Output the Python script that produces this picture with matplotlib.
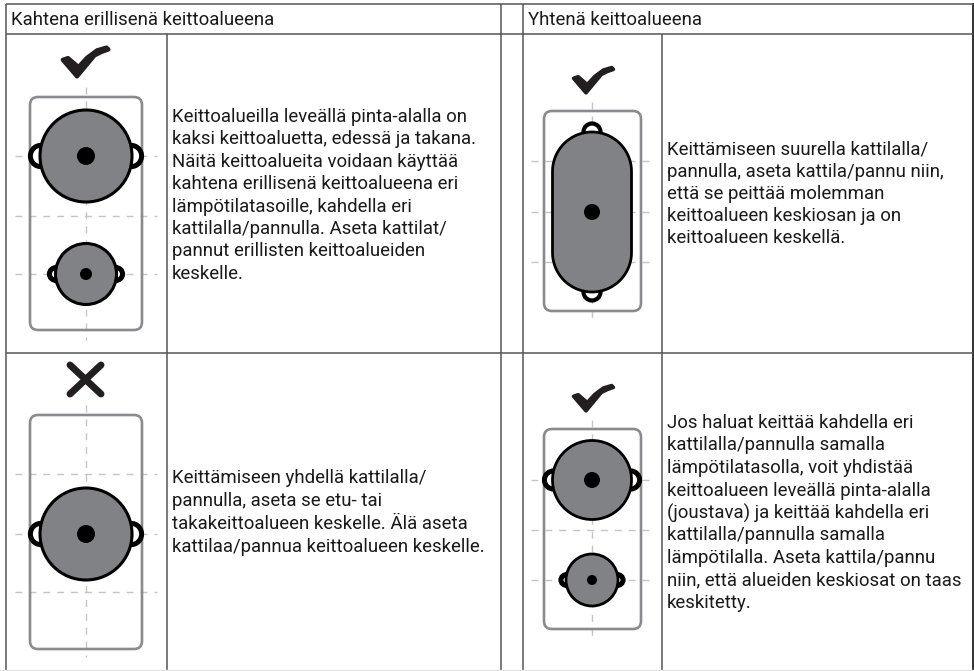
import numpy as np
import matplotlib
matplotlib.use('Agg')
import matplotlib.pyplot as plt
from matplotlib.patches import Circle, Ellipse, FancyBboxPatch, Polygon

header_left = "Kahtena erillisenä keittoalueena"
header_right = "Yhtenä keittoalueena"

text_top_left = ["Keittoalueilla leveällä pinta-alalla on",
                 "kaksi keittoaluetta, edessä ja takana.",
                 "Näitä keittoalueita voidaan käyttää",
                 "kahtena erillisenä keittoalueena eri",
                 "lämpötilatasoille, kahdella eri",
                 "kattilalla/pannulla. Aseta kattilat/",
                 "pannut erillisten keittoalueiden",
                 "keskelle."]
text_bottom_left = ["Keittämiseen yhdellä kattilalla/",
                    "pannulla, aseta se etu- tai",
                    "takakeittoalueen keskelle. Älä aseta",
                    "kattilaa/pannua keittoalueen keskelle."]
text_top_right = ["Keittämiseen suurella kattilalla/",
                  "pannulla, aseta kattila/pannu niin,",
                  "että se peittää molemman",
                  "keittoalueen keskiosan ja on",
                  "keittoalueen keskellä."]
text_bottom_right = ["Jos haluat keittää kahdella eri",
                     "kattilalla/pannulla samalla",
                     "lämpötilatasolla, voit yhdistää",
                     "keittoalueen leveällä pinta-alalla",
                     "(joustava) ja keittää kahdella eri",
                     "kattilalla/pannulla samalla",
                     "lämpötilalla. Aseta kattila/pannu",
                     "niin, että alueiden keskiosat on taas",
                     "keskitetty."]

INK = '#231f20'
LINE = '#555555'
DASH = '#c4c5c7'
ZONE = '#8a8b8e'
POT = '#808285'
FS = 13.4

plt.rcParams['font.family'] = ['Roboto', 'DejaVu Sans']

fig = plt.figure(figsize=(9.74, 6.71), dpi=100)
ax = fig.add_axes([0, 0, 1, 1])
ax.set_xlim(0, 974)
ax.set_ylim(671, 0)
ax.axis('off')


def draw_grid():
    for x, y0, y1 in [(6, 3.5, 671), (501, 3.5, 671), (523, 3.5, 671),
                      (167, 34, 671), (662, 34, 671)]:
        ax.plot([x, x], [y0, y1], color=LINE, lw=1.1, solid_capstyle='butt')
    ax.plot([973, 973], [3, 671], color='#222222', lw=1.3, solid_capstyle='butt')
    for y in [3.5, 34, 353]:
        ax.plot([6, 973], [y, y], color=LINE, lw=1.1, solid_capstyle='butt')
    ax.plot([0, 974], [670, 670], color='#e4e4e4', lw=1.0)


def draw_zone(cx, x0, x1, y0, y1, vtop, vbot, hx0, hx1, hys):
    ax.plot([cx, cx], [vtop, vbot], color=DASH, lw=1.0, dashes=(5, 5), zorder=1)
    for y in hys:
        ax.plot([hx0, hx1], [y, y], color=DASH, lw=1.0, dashes=(5, 5), zorder=1)
    ax.add_patch(FancyBboxPatch((x0 + 8, y0 + 8), x1 - x0 - 16, y1 - y0 - 16,
                                boxstyle='round,pad=8,rounding_size=8', fc='none',
                                ec=ZONE, lw=1.9, zorder=2))


def draw_pot(cx, cy, r, dot, hx, hh, lw):
    # grips go first so the round body hides their inner half
    w = hh * 0.8
    for side in (-1, 1):
        ax.add_patch(Ellipse((cx + side * (hx - 2.4 - w), cy), 2 * w, 2 * (hh - 2.4),
                             fc='white', ec='black', lw=3.6, zorder=3))
    ax.add_patch(Circle((cx, cy), r, fc=POT, ec='black', lw=lw, zorder=4))
    ax.add_patch(Circle((cx, cy), dot, fc='black', ec='none', zorder=5))


def draw_check(tipx, tipy, s):
    shape = np.array([(-14.3, -19.2), (-9, -21), (1.5, -12), (10, -21.3), (20, -28.7),
                      (29.5, -31.5), (31.5, -29.5), (24.5, -27), (17.5, -23.5), (0, -2.5)])
    ax.add_patch(Polygon(shape * s + [tipx, tipy], closed=True, fc=INK, ec=INK, lw=3 * s,
                         joinstyle='round', zorder=3))


def draw_stadium(cx, y0, y1, r):
    t = np.linspace(np.pi, 2 * np.pi, 40)
    top = np.column_stack([cx + r * np.cos(t), y0 + r + r * np.sin(t)])
    bot = np.column_stack([cx - r * np.cos(t), y1 - r - r * np.sin(t)])
    ax.add_patch(Polygon(np.vstack([top, bot]), closed=True, fc=POT, ec='black', lw=2.0, zorder=4))


def draw_text(lines, x, y0, pitch):
    for i, line in enumerate(lines):
        ax.text(x, y0 + i * pitch, line, fontsize=FS, color='#1a1a1a',
                va='center', ha='left', zorder=6)


draw_grid()
ax.text(11, 20, header_left, fontsize=FS, color='#1a1a1a', va='center', ha='left')
ax.text(528, 20, header_right, fontsize=FS, color='#1a1a1a', va='center', ha='left')

# upper left
draw_check(77, 79, 1.0)
draw_zone(86, 30, 142, 97, 330, 87, 340, 15, 157, [156, 216, 274])
draw_pot(86, 156, 46, 9, 58, 13, 2.2)
draw_pot(86, 274, 30.5, 6, 39, 9, 2.2)
draw_text(text_top_left, 172, 117, 22.4)

# lower left
for a, b in [((70, 365), (101, 394)), ((101, 365), (70, 394))]:
    ax.plot([a[0], b[0]], [a[1], b[1]], color=INK, lw=5, solid_capstyle='round', zorder=3)
draw_zone(86, 30, 142, 415, 649, 405, 657, 15, 157, [474, 534, 592])
draw_pot(86, 534, 46, 9, 58, 13, 2.2)
draw_text(text_bottom_left, 172, 478, 23)

# upper right
draw_check(586, 95, 0.87)
draw_zone(592, 544, 641, 111, 311, 102, 318, 531, 654, [161, 212, 262])
for y in (132, 292):
    ax.add_patch(Ellipse((592, y), 17, 17, fc='white', ec='black', lw=3.0, zorder=3))
draw_stadium(592, 132, 292, 39.5)
ax.add_patch(Circle((592, 212), 8, fc='black', ec='none', zorder=5))
draw_text(text_top_right, 667, 150, 22)

# lower right
draw_check(586, 413, 0.87)
draw_zone(592, 544, 641, 429, 629, 420, 636, 531, 654, [480, 530, 580])
draw_pot(592, 480, 39.5, 8, 50, 11.5, 2.0)
draw_pot(592, 580, 26, 5, 33.5, 8, 2.0)
draw_text(text_bottom_right, 667, 423, 22.5)

fig.savefig('out.png', dpi=100)
